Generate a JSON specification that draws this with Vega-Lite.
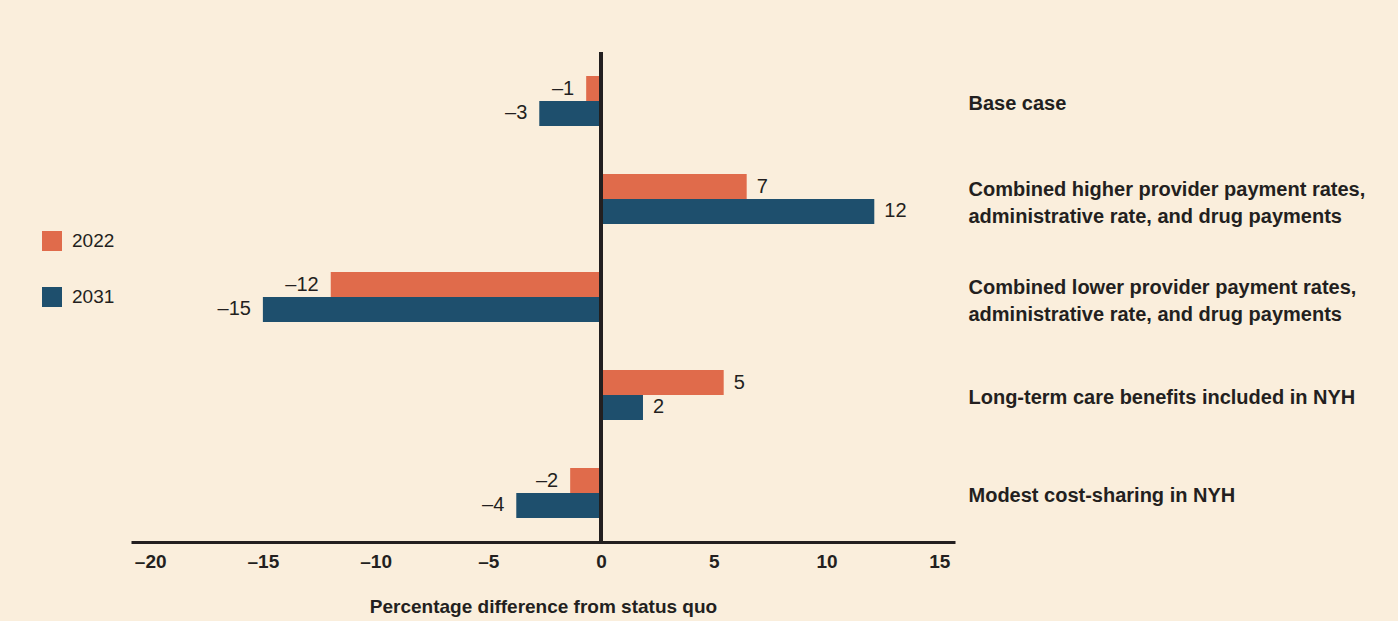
{
  "$schema": "https://vega.github.io/schema/vega-lite/v6.json",
  "width": 824,
  "height": 490,
  "autosize": {"type": "none"},
  "padding": {"left": 131, "top": 52, "right": 443, "bottom": 79},
  "background": "#FAEEDC",
  "config": {
    "view": {"stroke": null},
    "font": "Liberation Sans Narrow, Liberation Sans, sans-serif"
  },
  "data": {
    "values": [
      {"category": "Base case", "year": "2022", "value": -0.66, "label": "–1"},
      {"category": "Base case", "year": "2031", "value": -2.74, "label": "–3"},
      {"category": "Combined higher provider payment rates,|administrative rate, and drug payments", "year": "2022", "value": 6.46, "label": "7"},
      {"category": "Combined higher provider payment rates,|administrative rate, and drug payments", "year": "2031", "value": 12.12, "label": "12"},
      {"category": "Combined lower provider payment rates,|administrative rate, and drug payments", "year": "2022", "value": -11.99, "label": "–12"},
      {"category": "Combined lower provider payment rates,|administrative rate, and drug payments", "year": "2031", "value": -15.0, "label": "–15"},
      {"category": "Long-term care benefits included in NYH", "year": "2022", "value": 5.44, "label": "5"},
      {"category": "Long-term care benefits included in NYH", "year": "2031", "value": 1.86, "label": "2"},
      {"category": "Modest cost-sharing in NYH", "year": "2022", "value": -1.37, "label": "–2"},
      {"category": "Modest cost-sharing in NYH", "year": "2031", "value": -3.76, "label": "–4"}
    ]
  },
  "encoding": {
    "y": {
      "field": "category",
      "type": "nominal",
      "sort": null,
      "scale": {"paddingInner": 0.49, "paddingOuter": 0.245},
      "axis": {
        "orient": "right",
        "title": null,
        "domain": false,
        "ticks": false,
        "grid": false,
        "labelPadding": 13,
        "labelAlign": "left",
        "labelBaseline": "middle",
        "labelFontSize": 20,
        "labelFontWeight": "bold",
        "labelColor": "#231F20",
        "labelLineHeight": 27,
        "labelLimit": 500,
        "labelOffset": {"condition": {"test": "indexof(datum.label, '|') >= 0", "value": -9}, "value": 3},
        "labelExpr": "split(datum.label, '|')"
      }
    },
    "yOffset": {"field": "year", "type": "nominal", "scale": {"paddingInner": 0, "paddingOuter": 0}}
  },
  "layer": [
    {
      "mark": {"type": "bar"},
      "encoding": {
        "x": {
          "field": "value",
          "type": "quantitative",
          "scale": {"domain": [-20.85, 15.7], "nice": false, "zero": false},
          "axis": {
            "values": [-20, -15, -10, -5, 0, 5, 10, 15],
            "labelExpr": "datum.value < 0 ? '–' + abs(datum.value) : datum.label",
            "grid": false,
            "ticks": false,
            "domain": true,
            "domainColor": "#231F20",
            "domainWidth": 3,
            "labelPadding": 10,
            "labelFontSize": 19,
            "labelFontWeight": "bold",
            "labelColor": "#231F20",
            "labelFlush": false,
            "title": "Percentage difference from status quo",
            "titleFontSize": 19,
            "titleFontWeight": "bold",
            "titleColor": "#231F20",
            "titlePadding": 26
          }
        },
        "color": {
          "field": "year",
          "type": "nominal",
          "scale": {"domain": ["2022", "2031"], "range": ["#E06B4B", "#1E4F6D"]},
          "legend": {
            "orient": "none",
            "legendX": -89,
            "legendY": 179,
            "title": null,
            "symbolType": "square",
            "symbolSize": 400,
            "symbolStrokeWidth": 0,
            "symbolOpacity": 1,
            "rowPadding": 36,
            "labelOffset": 10,
            "labelFontSize": 19,
            "labelColor": "#231F20",
            "padding": 0
          }
        }
      }
    },
    {
      "mark": {"type": "rule", "color": "#231F20", "strokeWidth": 3},
      "encoding": {"x": {"datum": 0}, "y": null, "yOffset": null}
    },
    {
      "transform": [{"filter": "datum.value < 0"}],
      "mark": {"type": "text", "align": "right", "baseline": "middle", "dx": -12, "fontSize": 20, "color": "#231F20"},
      "encoding": {
        "x": {"field": "value", "type": "quantitative"},
        "text": {"field": "label"}
      }
    },
    {
      "transform": [{"filter": "datum.value >= 0"}],
      "mark": {"type": "text", "align": "left", "baseline": "middle", "dx": 10, "fontSize": 20, "color": "#231F20"},
      "encoding": {
        "x": {"field": "value", "type": "quantitative"},
        "text": {"field": "label"}
      }
    }
  ]
}
